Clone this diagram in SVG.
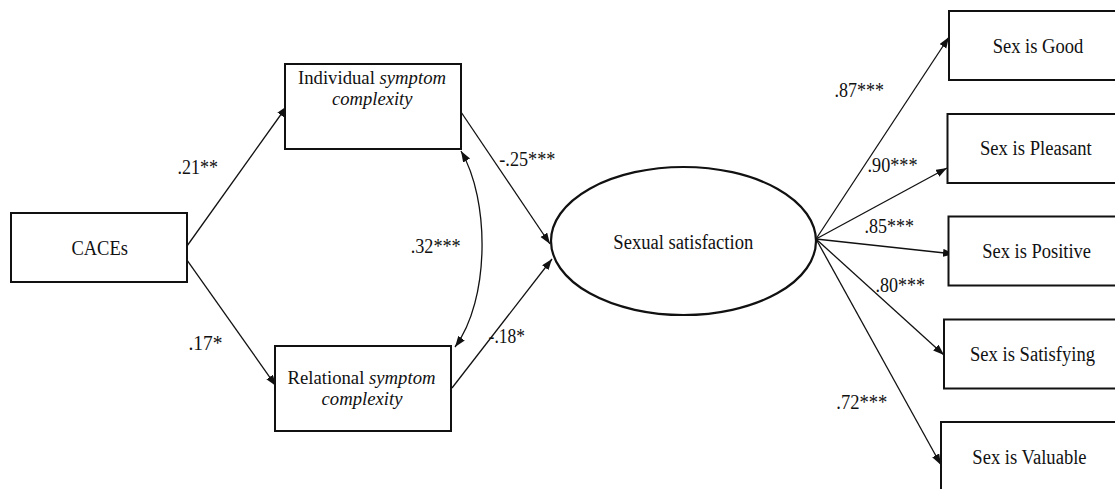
<svg xmlns="http://www.w3.org/2000/svg" width="1115" height="489" viewBox="0 0 1115 489">
<style>
.box{fill:#fff;stroke:#111;stroke-width:2}
.ell{fill:#fff;stroke:#111;stroke-width:2.2}
.edge{fill:none;stroke:#111;stroke-width:1.3}
text{font-family:'Liberation Serif','Times New Roman','DejaVu Serif',serif;font-size:20px;fill:#111}
.n{font-size:19px}
.it{font-style:italic}
</style>
<defs>
<marker id="ah" markerUnits="userSpaceOnUse" markerWidth="12" markerHeight="9" refX="11" refY="4" orient="auto-start-reverse">
<path d="M0,0 L11,4 L0,8 z" fill="#111"/>
</marker>
</defs>
<rect width="1115" height="489" fill="#fff"/>
<g id="connectors">
<line class="edge" x1="187" y1="246" x2="287" y2="106" marker-end="url(#ah)"/>
<line class="edge" x1="187" y1="260" x2="276" y2="386" marker-end="url(#ah)"/>
<line class="edge" x1="461" y1="112" x2="550" y2="244" marker-end="url(#ah)"/>
<line class="edge" x1="452" y1="388" x2="552" y2="259" marker-end="url(#ah)"/>
<path class="edge" d="M461,151 C490,200 490,300 455,347" marker-start="url(#ah)" marker-end="url(#ah)"/>
<line class="edge" x1="816" y1="239" x2="949" y2="37" marker-end="url(#ah)"/>
<line class="edge" x1="816" y1="239" x2="947" y2="168" marker-end="url(#ah)"/>
<line class="edge" x1="816" y1="239" x2="954" y2="254" marker-end="url(#ah)"/>
<line class="edge" x1="816" y1="239" x2="944" y2="355" marker-end="url(#ah)"/>
<line class="edge" x1="816" y1="239" x2="941" y2="465" marker-end="url(#ah)"/>
</g>
<g id="labels">
<text x="177.4" y="174" textLength="40.5" lengthAdjust="spacingAndGlyphs">.21**</text>
<text x="188.5" y="350" textLength="34" lengthAdjust="spacingAndGlyphs">.17*</text>
<text x="499.3" y="165.5" textLength="56" lengthAdjust="spacingAndGlyphs">-.25***</text>
<text x="410.7" y="253.3" textLength="50" lengthAdjust="spacingAndGlyphs">.32***</text>
<text x="488.6" y="342.8" textLength="36.4" lengthAdjust="spacingAndGlyphs">-.18*</text>
<text x="834.5" y="96.7" textLength="49.5" lengthAdjust="spacingAndGlyphs">.87***</text>
<text x="867.5" y="171.7" textLength="50" lengthAdjust="spacingAndGlyphs">.90***</text>
<text x="864.5" y="233.3" textLength="49.5" lengthAdjust="spacingAndGlyphs">.85***</text>
<text x="875.5" y="292.3" textLength="49.5" lengthAdjust="spacingAndGlyphs">.80***</text>
<text x="836.3" y="409" textLength="51" lengthAdjust="spacingAndGlyphs">.72***</text>
</g>
<g id="caces">
<rect class="box" x="11" y="213" width="176" height="69"/>
<text x="71.4" y="255" textLength="56.5" lengthAdjust="spacingAndGlyphs">CACEs</text>
</g>
<g id="individual">
<rect class="box" x="285" y="64" width="176" height="85"/>
<text class="n" x="298" y="83.5" textLength="148" lengthAdjust="spacingAndGlyphs">Individual <tspan class="it">symptom</tspan></text>
<text class="n it" x="332" y="105" textLength="80.5" lengthAdjust="spacingAndGlyphs">complexity</text>
</g>
<g id="relational">
<rect class="box" x="275" y="346" width="176" height="85"/>
<text class="n" x="287.5" y="383.5" textLength="148" lengthAdjust="spacingAndGlyphs">Relational <tspan class="it">symptom</tspan></text>
<text class="n it" x="321.5" y="404.5" textLength="81" lengthAdjust="spacingAndGlyphs">complexity</text>
</g>
<g id="sexual-satisfaction">
<ellipse class="ell" cx="683.5" cy="241" rx="132.5" ry="74"/>
<text x="613.3" y="249" textLength="140" lengthAdjust="spacingAndGlyphs">Sexual satisfaction</text>
</g>
<g id="good">
<rect class="box" x="949" y="11" width="180" height="69"/>
<text x="992.7" y="53.3" textLength="90.6" lengthAdjust="spacingAndGlyphs">Sex is Good</text>
</g>
<g id="pleasant">
<rect class="box" x="947.5" y="114" width="180" height="69"/>
<text x="980" y="155.3" textLength="111.7" lengthAdjust="spacingAndGlyphs">Sex is Pleasant</text>
</g>
<g id="positive">
<rect class="box" x="948.5" y="216.5" width="180" height="69"/>
<text x="982.3" y="258" textLength="108.7" lengthAdjust="spacingAndGlyphs">Sex is Positive</text>
</g>
<g id="satisfying">
<rect class="box" x="944" y="319.5" width="180" height="69"/>
<text x="970" y="361" textLength="125" lengthAdjust="spacingAndGlyphs">Sex is Satisfying</text>
</g>
<g id="valuable">
<rect class="box" x="941" y="422" width="180" height="80"/>
<text x="972.3" y="464" textLength="114.3" lengthAdjust="spacingAndGlyphs">Sex is Valuable</text>
</g>
</svg>
